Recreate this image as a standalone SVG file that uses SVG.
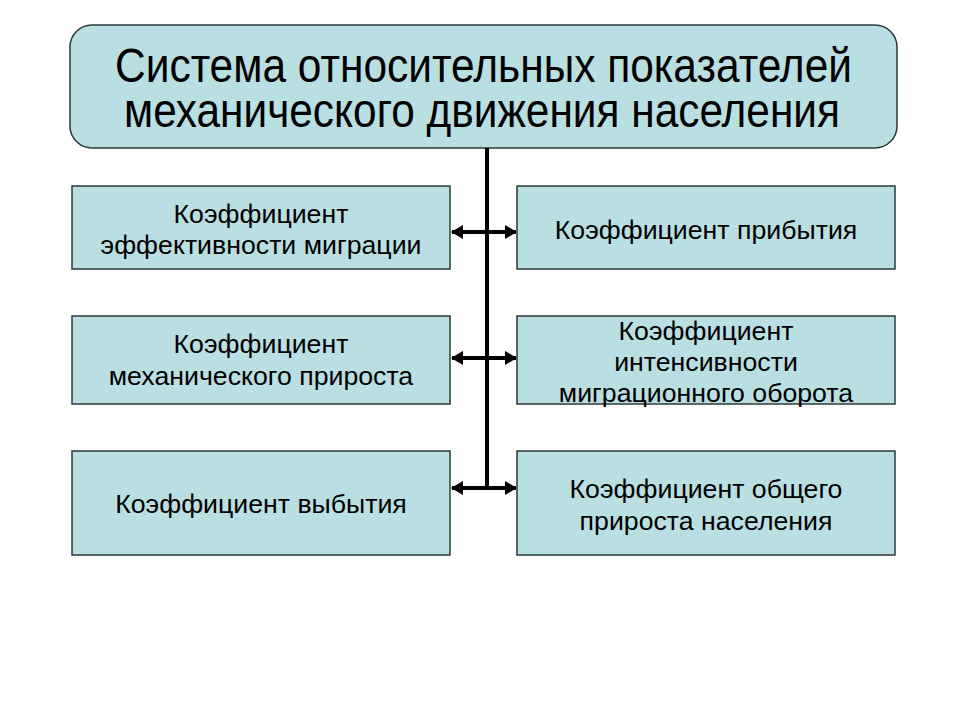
<svg xmlns="http://www.w3.org/2000/svg" width="960" height="720" viewBox="0 0 960 720">
<defs>
<style>
.box{fill:#badfe3;stroke:#2b3a3a;stroke-width:1.5}
.t{font-family:"Liberation Sans",Arial,sans-serif;font-size:26.7px;fill:#000;text-anchor:middle}
.h{font-family:"Liberation Sans",Arial,sans-serif;font-size:48px;fill:#000;text-anchor:middle}
.ln{stroke:#000;stroke-width:4;fill:none}
</style>
<marker id="ah" viewBox="0 0 12 14" refX="11" refY="7" markerWidth="12" markerHeight="14" markerUnits="userSpaceOnUse" orient="auto-start-reverse">
<path d="M0,0 L12,7 L0,14 Z" fill="#000"/>
</marker>
</defs>
<rect width="960" height="720" fill="#fff"/>
<g id="title">
<rect class="box" x="70" y="25" width="827" height="123" rx="22" ry="22"/>
<text class="h" x="483.5" y="82" textLength="737" lengthAdjust="spacingAndGlyphs">Система относительных показателей</text>
<text class="h" x="482" y="127" textLength="716" lengthAdjust="spacingAndGlyphs">механического движения населения</text>
</g>
<g id="connectors">
<line class="ln" x1="487" y1="148" x2="487" y2="490"/>
<line class="ln" x1="452" y1="232" x2="516" y2="232" marker-start="url(#ah)" marker-end="url(#ah)"/>
<line class="ln" x1="452" y1="358" x2="516" y2="358" marker-start="url(#ah)" marker-end="url(#ah)"/>
<line class="ln" x1="452" y1="488" x2="516" y2="488" marker-start="url(#ah)" marker-end="url(#ah)"/>
</g>
<g id="n1">
<rect class="box" x="72" y="186" width="378" height="83"/>
<text class="t" x="261" y="223">Коэффициент</text>
<text class="t" x="261" y="254">эффективности миграции</text>
</g>
<g id="n2">
<rect class="box" x="517" y="186" width="378" height="83"/>
<text class="t" x="706" y="239">Коэффициент прибытия</text>
</g>
<g id="n3">
<rect class="box" x="72" y="316" width="378" height="88"/>
<text class="t" x="261" y="353">Коэффициент</text>
<text class="t" x="261" y="385">механического прироста</text>
</g>
<g id="n4">
<rect class="box" x="517" y="316" width="378" height="88"/>
<text class="t" x="706" y="340">Коэффициент</text>
<text class="t" x="706" y="371">интенсивности</text>
<text class="t" x="706" y="402">миграционного оборота</text>
</g>
<g id="n5">
<rect class="box" x="72" y="451" width="378" height="104"/>
<text class="t" x="261" y="513">Коэффициент выбытия</text>
</g>
<g id="n6">
<rect class="box" x="517" y="451" width="378" height="104"/>
<text class="t" x="706" y="498">Коэффициент общего</text>
<text class="t" x="706" y="530">прироста населения</text>
</g>
</svg>
